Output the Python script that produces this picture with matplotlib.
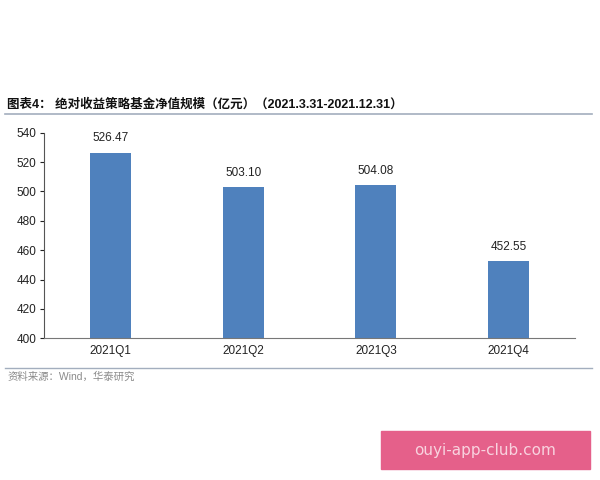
import matplotlib
matplotlib.use("Agg")
from matplotlib import pyplot as plt
from matplotlib.lines import Line2D
from matplotlib.patches import Rectangle

quarters = ["2021Q1", "2021Q2", "2021Q3", "2021Q4"]
scale = [526.47, 503.10, 504.08, 452.55]  # 亿元
y_ticks = [400, 420, 440, 460, 480, 500, 520, 540]

title = "图表4： 绝对收益策略基金净值规模（亿元）（2021.3.31-2021.12.31）"
source = "资料来源：Wind，华泰研究"
watermark = "ouyi-app-club.com"

fonts = ["Liberation Sans", "Noto Sans CJK SC", "DejaVu Sans"]
plt.rcParams["font.family"] = fonts

bar_color = "#4F81BD"
line_color = "#A3AEBE"

fig = plt.figure(figsize=(6, 4.8), dpi=100)
ax = fig.add_axes([0.074, 0.2952, 0.884, 0.4283])

x = range(len(quarters))
ax.bar(x, scale, width=0.31, color=bar_color, zorder=2)
for i, v in zip(x, scale):
    ax.annotate("%.2f" % v, (i, v), xytext=(0, 6), textcoords="offset points",
                ha="center", va="bottom", fontsize=8.5, color="#222222")

ax.set_xlim(-0.5, len(quarters) - 0.5)
ax.set_ylim(400, 540)
ax.set_yticks(y_ticks)
ax.set_xticks(list(x))
ax.set_xticklabels(quarters)
ax.tick_params(axis="x", length=0, pad=5, labelsize=8.5, colors="#222222")
ax.tick_params(axis="y", length=3, width=0.8, pad=3, labelsize=8.5,
               colors="#222222", direction="out")
for side in ["top", "right"]:
    ax.spines[side].set_visible(False)
ax.spines["left"].set_color("#555555")
ax.spines["bottom"].set_color("#777777")
ax.spines["left"].set_linewidth(0.8)
ax.spines["bottom"].set_linewidth(0.8)

# title and rules
fig.text(0.012, 1 - 105 / 480, title, fontsize=9, fontweight="bold",
         va="center", ha="left", color="#111111")
fig.add_artist(Line2D([0.009, 0.987], [1 - 114 / 480] * 2, color=line_color, lw=1.2))
fig.add_artist(Line2D([0.009, 0.987], [1 - 368 / 480] * 2, color=line_color, lw=1.0))
fig.text(0.012, 1 - 377 / 480, source, fontsize=7.5, va="center", ha="left", color="#8A8A8A")

# watermark box
fig.add_artist(Rectangle((381 / 600, 1 - 469 / 480), 209 / 600, 38 / 480,
                         transform=fig.transFigure, color="#E5608A", zorder=5))
fig.text(485.5 / 600, 1 - 450 / 480, watermark, fontsize=11, family="DejaVu Sans",
         ha="center", va="center", color="#F8D3DF", zorder=6)

fig.savefig("out.png", dpi=100)
